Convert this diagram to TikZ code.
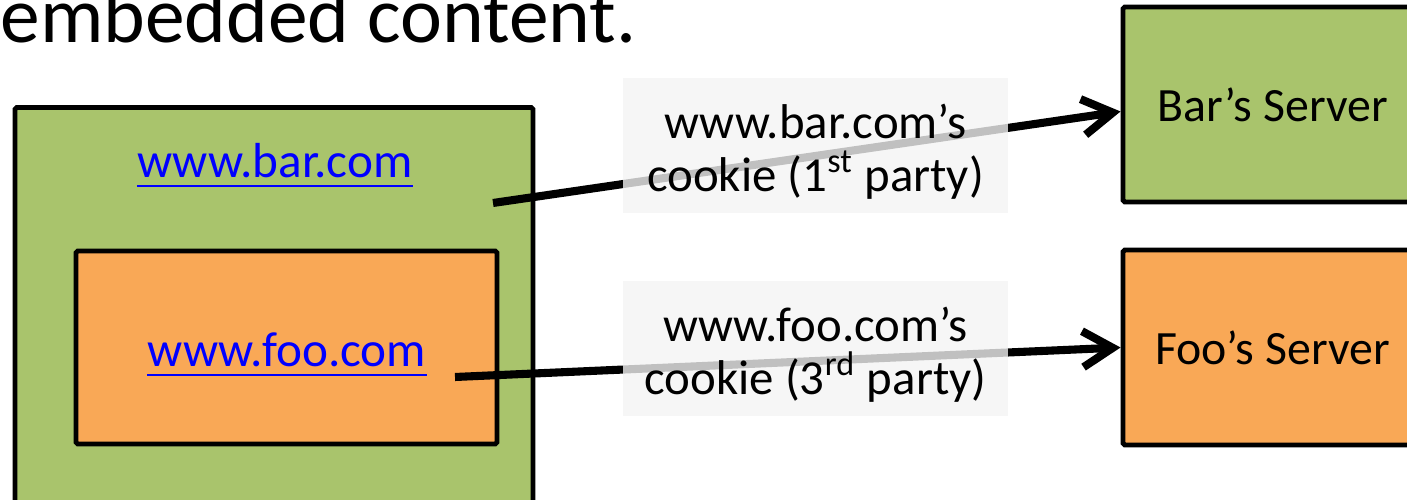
\documentclass[tikz,border=0pt]{standalone}
\usepackage{fontspec}
\setmainfont{Carlito}
\usetikzlibrary{arrows.meta,positioning}
\definecolor{bargreen}{RGB}{169,196,108}
\definecolor{fooorange}{RGB}{249,168,86}
\definecolor{labelgray}{RGB}{244,244,244}
\definecolor{linkblue}{RGB}{0,0,255}

\begin{document}
\begin{tikzpicture}[
    site/.style={draw=black, line width=1.4pt, rounded corners=0.5pt},
    srv/.style={site, minimum width=2.99cm, minimum height=1.95cm, font=\fontsize{13.6}{16}\selectfont},
    cookie/.style={fill=labelgray, fill opacity=0.79, minimum width=3.85cm, minimum height=1.35cm},
    cookietext/.style={align=center, inner sep=0pt, font=\fontsize{13.9}{15}\selectfont},
    link/.style={text=linkblue, font=\fontsize{14}{16}\selectfont, inner sep=0pt, anchor=base},
    uline/.style={draw=linkblue, line width=0.8pt},
    req/.style={line width=2.3pt, -{Straight Barb[length=3mm,width=3.6mm]}}
  ]
  \useasboundingbox (0,0) rectangle (14.07,5);
  \clip (0,0) rectangle (14.07,5);
  % page and embedded frame
  \node[anchor=base west, inner sep=0pt, font=\fontsize{22.6}{26}\selectfont] (title) at (0,4.57) {embedded content.};
  \node[site, fill=bargreen, minimum width=5.18cm, minimum height=4.25cm] (barpage) at (2.74,1.80) {};
  \node[site, fill=fooorange, minimum width=4.21cm, minimum height=1.93cm] (fooframe) at (2.865,1.525) {};
  \node[link] (barlink) at (2.75,3.22) {www.bar.com};
  \node[link] (foolink) at (2.87,1.33) {www.foo.com};
  \draw[uline] ([yshift=-0.08cm]barlink.base west) -- ([yshift=-0.08cm]barlink.base east);
  \draw[uline] ([yshift=-0.08cm]foolink.base west) -- ([yshift=-0.08cm]foolink.base east);
  \coordinate (barout) at (4.93,2.97);
  \coordinate (fooout) at (4.55,1.23);
  % servers
  \node[srv, fill=bargreen] (barsrv) at (12.725,3.955) {Bar’s Server};
  \node[srv, fill=fooorange] (foosrv) at (12.725,1.525) {Foo’s Server};
  % requests
  \draw[req] (barout) -- ([yshift=-0.07cm]barsrv.west);
  \draw[req] (fooout) -- (foosrv.west);
  \node[cookie] (barcookie) at (8.155,3.545) {};
  \node[cookie] (foocookie) at (8.155,1.515) {};
  \node[cookietext] (bartext) at ([yshift=-0.06cm]barcookie.center) {www.bar.com’s\\cookie (1\textsuperscript{st} party)};
  \node[cookietext] (footext) at ([yshift=-0.06cm]foocookie.center) {www.foo.com’s\\cookie (3\textsuperscript{rd} party)};
\end{tikzpicture}
\end{document}
